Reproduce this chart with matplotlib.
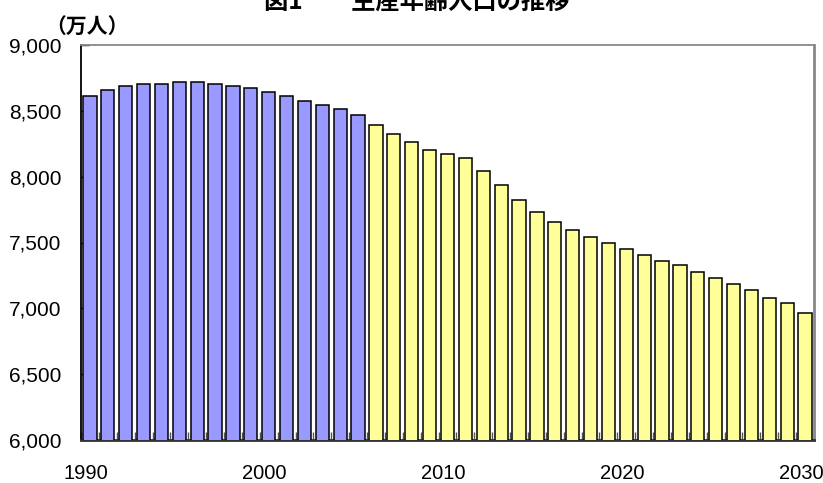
import numpy as np
import matplotlib.pyplot as plt
import matplotlib.transforms as mtransforms

years = list(range(1990, 2031))
# 万人 (1990-2005 actual, 2006-2030 projection)
actual = [8615, 8661, 8691, 8706, 8706, 8719, 8719, 8706,
          8691, 8676, 8646, 8615, 8572, 8544, 8514, 8468]
projected = [8395, 8322, 8263, 8203, 8175, 8145, 8043, 7937, 7823,
             7730, 7656, 7598, 7540, 7494, 7449, 7405, 7362, 7332,
             7274, 7229, 7188, 7142, 7081, 7041, 6963]
xlabels = ["1990", "2000", "2010", "2020", "2030"]
yticks = [6000, 6500, 7000, 7500, 8000, 8500, 9000]

fig = plt.figure(figsize=(8.23, 4.83), dpi=100)
ax = fig.add_axes([81 / 823, 1 - 440 / 483, 733 / 823, 395 / 483])

x_act = np.arange(len(actual))
x_proj = np.arange(len(actual), len(actual) + len(projected))
ax.bar(x_act, actual, width=0.74, color="#9999ff", edgecolor="black",
       linewidth=1.1, zorder=3)
ax.bar(x_proj, projected, width=0.74, color="#ffff99", edgecolor="black",
       linewidth=1.1, zorder=3)

ax.set_xlim(-0.5, len(years) - 0.5)
ax.set_ylim(6000, 9000)

ax.set_yticks(yticks)
ax.set_yticklabels(["{:,}".format(v) for v in yticks],
                   fontsize=15, family="Liberation Sans")
ax.tick_params(axis="y", direction="in", length=6, width=1, pad=14)

pos = [years.index(int(s)) for s in xlabels]
ax.set_xticks(pos)
ax.set_xticklabels(xlabels, fontsize=14.5, family="Liberation Sans")
ax.tick_params(axis="x", which="major", length=0, pad=17)
# labels sit a few pixels left of the bar centres in the original
shift = mtransforms.ScaledTranslation(-4 / 100, 0, fig.dpi_scale_trans)
for lab in ax.get_xticklabels():
    lab.set_transform(lab.get_transform() + shift)
ax.set_xticks(np.arange(len(years) + 1) - 0.5, minor=True)
ax.tick_params(axis="x", which="minor", direction="in", length=6,
               width=1, color="#555555")

ax.spines["left"].set_color("black")
ax.spines["left"].set_linewidth(1.3)
ax.spines["bottom"].set_color("#333333")
ax.spines["bottom"].set_linewidth(2)
ax.spines["top"].set_color("#888888")
ax.spines["top"].set_linewidth(1.3)
ax.spines["right"].set_color("#888888")
ax.spines["right"].set_linewidth(2)

fig.text(87 / 823, 1 - 27 / 483, "（万人）", ha="center", va="center",
         fontsize=15, fontweight="bold", family="Noto Sans CJK JP")
fig.text(417 / 823, 1 - 3 / 483, "図1　　生産年齢人口の推移", ha="center",
         va="center", fontsize=17.5, fontweight="bold",
         family="Noto Sans CJK JP")

fig.savefig("out.png", dpi=100)
